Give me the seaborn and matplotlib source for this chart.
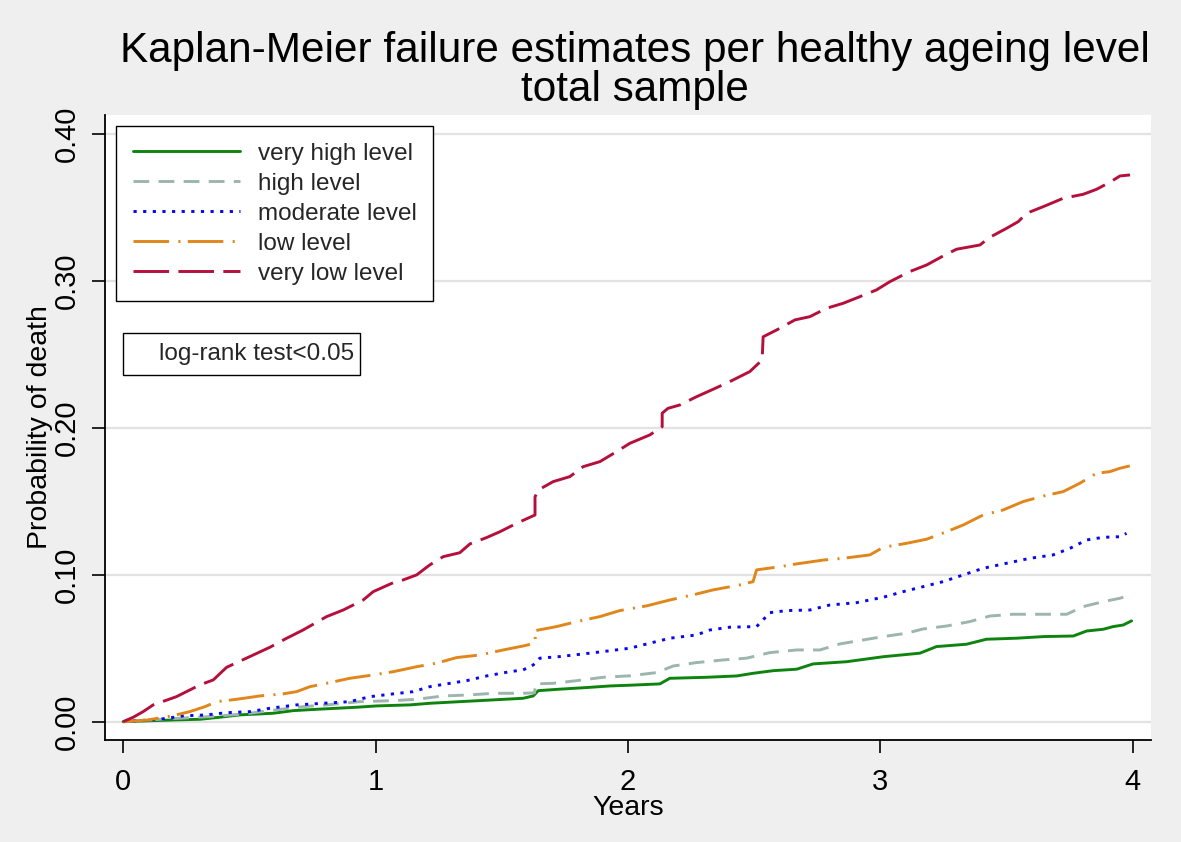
import numpy as np
import pandas as pd
import matplotlib
matplotlib.use("Agg")
import matplotlib.pyplot as plt
import seaborn as sns
from matplotlib.patches import Rectangle

# ---------------- data ----------------
groups = ["very high level", "high level", "moderate level", "low level", "very low level"]

very_high_t = [0.000, 0.211, 0.304, 0.383, 0.462, 0.594, 0.674, 0.766, 0.925, 1.004, 1.136, 1.215,
               1.334, 1.466, 1.585, 1.625, 1.645, 1.730, 1.836, 1.929, 2.008, 2.127, 2.166, 2.312,
               2.431, 2.496, 2.576, 2.669, 2.734, 2.867, 3.012, 3.157, 3.223, 3.342, 3.421, 3.540,
               3.646, 3.765, 3.818, 3.884, 3.923, 3.963, 3.996]
very_high_p = [0.000, 0.0012, 0.0016, 0.003, 0.0046, 0.0057, 0.0075, 0.0084, 0.0098, 0.0107, 0.0114, 0.0125,
               0.0136, 0.0148, 0.0159, 0.0175, 0.0211, 0.0221, 0.0232, 0.0243, 0.0248, 0.0257, 0.0295, 0.0302,
               0.0311, 0.0329, 0.0347, 0.0357, 0.0393, 0.0408, 0.0442, 0.0466, 0.0511, 0.0527, 0.0561, 0.0568,
               0.0579, 0.0583, 0.0617, 0.0629, 0.0647, 0.0658, 0.0686]

high_t = [0.000, 0.145, 0.344, 0.476, 0.608, 0.713, 0.806, 0.938, 1.070, 1.163, 1.268, 1.374,
          1.466, 1.585, 1.630, 1.634, 1.704, 1.797, 1.902, 2.008, 2.114, 2.180, 2.272, 2.378,
          2.470, 2.563, 2.669, 2.761, 2.840, 2.932, 3.012, 3.104, 3.170, 3.263, 3.355, 3.434,
          3.527, 3.634, 3.739, 3.804, 3.884, 3.950, 3.989]
high_p = [0.000, 0.0016, 0.0034, 0.0052, 0.008, 0.0102, 0.0114, 0.0136, 0.0143, 0.0152, 0.0175, 0.0182,
          0.0193, 0.0193, 0.0196, 0.0257, 0.0261, 0.0279, 0.0302, 0.0312, 0.0334, 0.0379, 0.0402, 0.042,
          0.0432, 0.047, 0.0488, 0.0488, 0.0529, 0.0556, 0.0579, 0.0602, 0.0631, 0.0651, 0.0681, 0.0719,
          0.0731, 0.0731, 0.0731, 0.0783, 0.0817, 0.084, 0.0862]

moderate_t = [0.000, 0.145, 0.238, 0.330, 0.410, 0.502, 0.581, 0.687, 0.793, 0.898, 0.978, 1.070,
              1.149, 1.215, 1.281, 1.361, 1.440, 1.532, 1.585, 1.625, 1.651, 1.730, 1.823, 1.902,
              2.008, 2.087, 2.166, 2.272, 2.325, 2.404, 2.510, 2.563, 2.629, 2.721, 2.800, 2.906,
              3.012, 3.091, 3.170, 3.249, 3.329, 3.408, 3.500, 3.593, 3.685, 3.752, 3.818, 3.884,
              3.950, 3.976]
moderate_p = [0.000, 0.0016, 0.0039, 0.0046, 0.0061, 0.0068, 0.0091, 0.0114, 0.0125, 0.0136, 0.017, 0.0189,
              0.0204, 0.0238, 0.0257, 0.0279, 0.0311, 0.034, 0.0352, 0.0386, 0.0432, 0.0443, 0.0461, 0.0477,
              0.050, 0.0534, 0.0568, 0.059, 0.0624, 0.0643, 0.0647, 0.0742, 0.0756, 0.076, 0.0794, 0.081,
              0.0847, 0.0885, 0.0919, 0.0953, 0.0999, 0.1044, 0.1078, 0.1112, 0.1135, 0.118, 0.1237, 0.1255,
              0.1259, 0.1282]

low_t = [0.000, 0.093, 0.192, 0.264, 0.324, 0.370, 0.449, 0.542, 0.634, 0.687, 0.740, 0.806,
         0.898, 0.991, 1.070, 1.163, 1.242, 1.321, 1.414, 1.506, 1.585, 1.632, 1.634, 1.717,
         1.797, 1.889, 1.968, 2.074, 2.166, 2.272, 2.338, 2.444, 2.496, 2.510, 2.602, 2.669,
         2.774, 2.853, 2.959, 3.012, 3.104, 3.184, 3.263, 3.329, 3.408, 3.487, 3.566, 3.646,
         3.725, 3.791, 3.857, 3.910, 3.950, 3.989]
low_p = [0.000, 0.001, 0.0039, 0.0068, 0.0102, 0.0136, 0.0152, 0.0175, 0.0189, 0.0204, 0.0238, 0.0261,
         0.0295, 0.0318, 0.034, 0.0374, 0.0398, 0.0436, 0.0454, 0.0488, 0.0515, 0.0534, 0.062, 0.0647,
         0.0681, 0.0715, 0.0756, 0.0788, 0.0828, 0.0869, 0.0897, 0.0931, 0.0953, 0.1033, 0.1055, 0.1074,
         0.110, 0.1112, 0.1135, 0.1187, 0.1214, 0.1242, 0.1293, 0.1339, 0.1407, 0.1441, 0.1498, 0.1536,
         0.1566, 0.1623, 0.1691, 0.1702, 0.1725, 0.1741]

very_low_t = [0.000, 0.040, 0.079, 0.119, 0.211, 0.304, 0.357, 0.410, 0.502, 0.581, 0.647, 0.713,
              0.806, 0.872, 0.951, 0.991, 1.070, 1.110, 1.163, 1.215, 1.268, 1.334, 1.374, 1.440,
              1.493, 1.559, 1.632, 1.632, 1.645, 1.704, 1.770, 1.823, 1.889, 1.955, 2.008, 2.087,
              2.136, 2.136, 2.159, 2.206, 2.272, 2.338, 2.404, 2.483, 2.532, 2.536, 2.589, 2.662,
              2.721, 2.787, 2.853, 2.919, 2.985, 3.038, 3.117, 3.184, 3.249, 3.302, 3.395, 3.434,
              3.500, 3.547, 3.580, 3.646, 3.725, 3.804, 3.857, 3.910, 3.950, 3.990]
very_low_p = [0.000, 0.003, 0.0068, 0.0114, 0.017, 0.025, 0.0284, 0.037, 0.0443, 0.0506, 0.0567, 0.0624,
              0.0715, 0.076, 0.0828, 0.0885, 0.0946, 0.0965, 0.0999, 0.1067, 0.1123, 0.115, 0.121, 0.1253,
              0.1293, 0.135, 0.1407, 0.153, 0.1577, 0.1634, 0.1668, 0.1736, 0.177, 0.1838, 0.1895, 0.1952,
              0.2008, 0.210, 0.2133, 0.2156, 0.2212, 0.2263, 0.2315, 0.2383, 0.2462, 0.262, 0.2666, 0.2735,
              0.2757, 0.2814, 0.2848, 0.2893, 0.2939, 0.2995, 0.3064, 0.3109, 0.317, 0.3216, 0.3245, 0.3297,
              0.3358, 0.3404, 0.3461, 0.3506, 0.3563, 0.359, 0.3624, 0.3672, 0.3715, 0.3722]

x_ticks = [0, 1, 2, 3, 4]
y_ticks = [0.0, 0.1, 0.2, 0.3, 0.4]
title_text = "Kaplan-Meier failure estimates per healthy ageing level\ntotal sample"
x_label = "Years"
y_label = "Probability of death"
note_text = "log-rank test<0.05"

# ---------------- styling ----------------
colors = ["#0e840e", "#9cb5ae", "#0808f0", "#e0861a", "#b50f3c"]
dash_styles = ["", (5.4, 3.2), (1.1, 2.2), (12.2, 3.2, 0.7, 2.5), (12.2, 3.2)]
LW = 2.1

sns.set_theme(style="white")
plt.rcParams["font.family"] = ["Liberation Sans", "DejaVu Sans"]

W, H = 1181, 842
fig = plt.figure(figsize=(W / 100, H / 100), dpi=100, facecolor="#efefef")
ax = fig.add_axes([105 / W, 1 - 740 / H, 1046 / W, 625 / H])
ax.set_facecolor("white")

times = [very_high_t, high_t, moderate_t, low_t, very_low_t]
probs = [very_high_p, high_p, moderate_p, low_p, very_low_p]
df = pd.concat(
    [pd.DataFrame({"t": t, "p": p, "group": g}) for g, t, p in zip(groups, times, probs)],
    ignore_index=True,
)

sns.lineplot(
    data=df, x="t", y="p", hue="group", style="group",
    hue_order=groups, style_order=groups,
    palette=dict(zip(groups, colors)), dashes=dict(zip(groups, dash_styles)),
    estimator=None, sort=True, lw=LW, ax=ax,
)

ax.set_xlim(-0.072, 4.073)
ax.set_ylim(-0.0125, 0.413)
ax.set_xticks(x_ticks)
ax.set_xticklabels([str(v) for v in x_ticks])
ax.set_yticks(y_ticks)
ax.set_yticklabels([f"{v:.2f}" for v in y_ticks])

ax.yaxis.grid(True, color="#e2e2e2", lw=1.6)
ax.xaxis.grid(False)
ax.set_axisbelow(True)
for s in ["top", "right"]:
    ax.spines[s].set_visible(False)
for s in ["left", "bottom"]:
    ax.spines[s].set_color("black")
    ax.spines[s].set_linewidth(1.3)

ax.tick_params(axis="both", direction="out", length=9.4, width=1.2, color="black",
               labelsize=21, pad=8, left=True, bottom=True, labelcolor="black")
ax.tick_params(axis="x", pad=11)
ax.tick_params(axis="y", labelrotation=90)
for lab in ax.get_yticklabels():
    lab.set_va("center")

ax.set_xlabel(x_label, fontsize=20.5, labelpad=-1, color="black")
ax.set_ylabel(y_label, fontsize=20.5, labelpad=0, color="black")

handles, labels = ax.get_legend_handles_labels()
for h in handles:
    h.set_linewidth(LW)
leg = ax.legend(handles, labels, loc="upper left", bbox_to_anchor=(11 / 1046, 1 - 11 / 625),
                borderaxespad=0, frameon=True, fancybox=False, edgecolor="black", framealpha=1,
                fontsize=17.5, handlelength=4.42, handletextpad=0.74, borderpad=0.68,
                labelspacing=0.33)
leg.get_frame().set_linewidth(1.0)

ax.add_patch(Rectangle((123 / W, 1 - 375 / H), (360 - 123) / W, (375 - 333) / H,
                       transform=fig.transFigure, facecolor="white", edgecolor="black",
                       lw=1.0, clip_on=False, zorder=5))
fig.text(354 / W, 1 - 354 / H, note_text, ha="right", va="center", fontsize=17.5, zorder=6)

fig.text(635 / W, 1 - 31 / H, title_text, ha="center", va="top", fontsize=30.4,
         linespacing=0.97, color="black")

fig.savefig("out.png", dpi=100, facecolor=fig.get_facecolor())
